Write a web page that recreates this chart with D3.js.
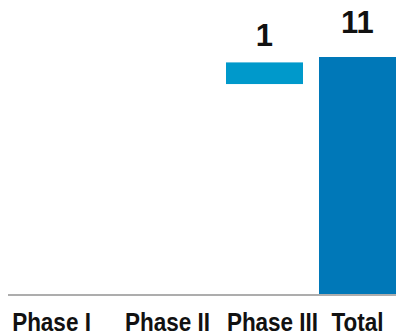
<!DOCTYPE html>
<html>
<head>
<meta charset="utf-8">
<script src="https://cdn.jsdelivr.net/npm/d3@7"></script>
<style>
  body { margin: 0; background: #fff; }
  .cat-label { font-family: "Liberation Sans", Arial, sans-serif; font-weight: bold; font-size: 25px; fill: #111; }
  .val-label { font-family: "Liberation Sans", Arial, sans-serif; font-weight: bold; font-size: 31px; fill: #111; }
</style>
</head>
<body>
<div class="waterfall_chart"></div>
<script>
var svgWidth = 396;
var svgHeight = 334;

// categories and values of the waterfall
var categories = ["Phase I", "Phase II", "Phase III", "Total"];
var stepValues = [null, null, 1, 11];     // labelled increments (null = not drawn)
var stepBases = [0, 0, 9.75, 0];          // where each step starts on the value axis
var barColors = ["none", "none", "#0099CB", "#0078B8"];

var svg = d3
  .select(".waterfall_chart")
  .append("svg")
  .attr("width", svgWidth)
  .attr("height", svgHeight);

var data = categories.map(function (c, i) {
  return { cat: c, value: stepValues[i], base: stepBases[i], color: barColors[i], total: c === "Total" };
});

// x band scale, y linear scale
var xBandScale = d3.scaleBand()
  .domain(categories)
  .range([40, 396])
  .paddingInner(0.172)
  .paddingOuter(0);

var yLinearScale = d3.scaleLinear()
  .domain([0, 11])
  .range([295, 57]);

// bars
svg.selectAll("rect.bar")
  .data(data.filter(d => d.value !== null))
  .enter()
  .append("rect")
  .classed("bar", true)
  .attr("x", d => xBandScale(d.cat))
  .attr("width", xBandScale.bandwidth())
  .attr("y", d => yLinearScale(d.base + d.value))
  .attr("height", d => yLinearScale(d.base) - yLinearScale(d.base + d.value))
  .attr("fill", d => d.color);

// value labels above bars
svg.selectAll("text.val-label")
  .data(data.filter(d => d.value !== null))
  .enter()
  .append("text")
  .classed("val-label", true)
  .attr("x", d => xBandScale(d.cat) + xBandScale.bandwidth() / 2)
  .attr("y", d => yLinearScale(d.base + d.value) - (d.total ? 24 : 16))
  .attr("text-anchor", "middle")
  .text(d => d.value);

// baseline
svg.append("line")
  .attr("x1", 8)
  .attr("x2", svgWidth)
  .attr("y1", yLinearScale(0))
  .attr("y2", yLinearScale(0))
  .attr("stroke", "#ADADAD")
  .attr("stroke-width", 2);

// category axis (no ticks or domain line)
var bottomAxis = d3.axisBottom(xBandScale).tickSize(0).tickPadding(0);
var xAxis = svg.append("g")
  .attr("transform", `translate(0, ${yLinearScale(0)})`)
  .call(bottomAxis);

xAxis.select(".domain").remove();

// labels sit a little off the band centres, and are set condensed
var labelShift = [-27, -4, 8, 0];
xAxis.selectAll("text")
  .attr("class", "cat-label")
  .attr("dy", null)
  .attr("y", null)
  .attr("font-family", null)
  .attr("font-size", null)
  .attr("transform", (d, i) => `translate(${labelShift[i]}, 36) scale(0.9, 1)`);
</script>
</body>
</html>
